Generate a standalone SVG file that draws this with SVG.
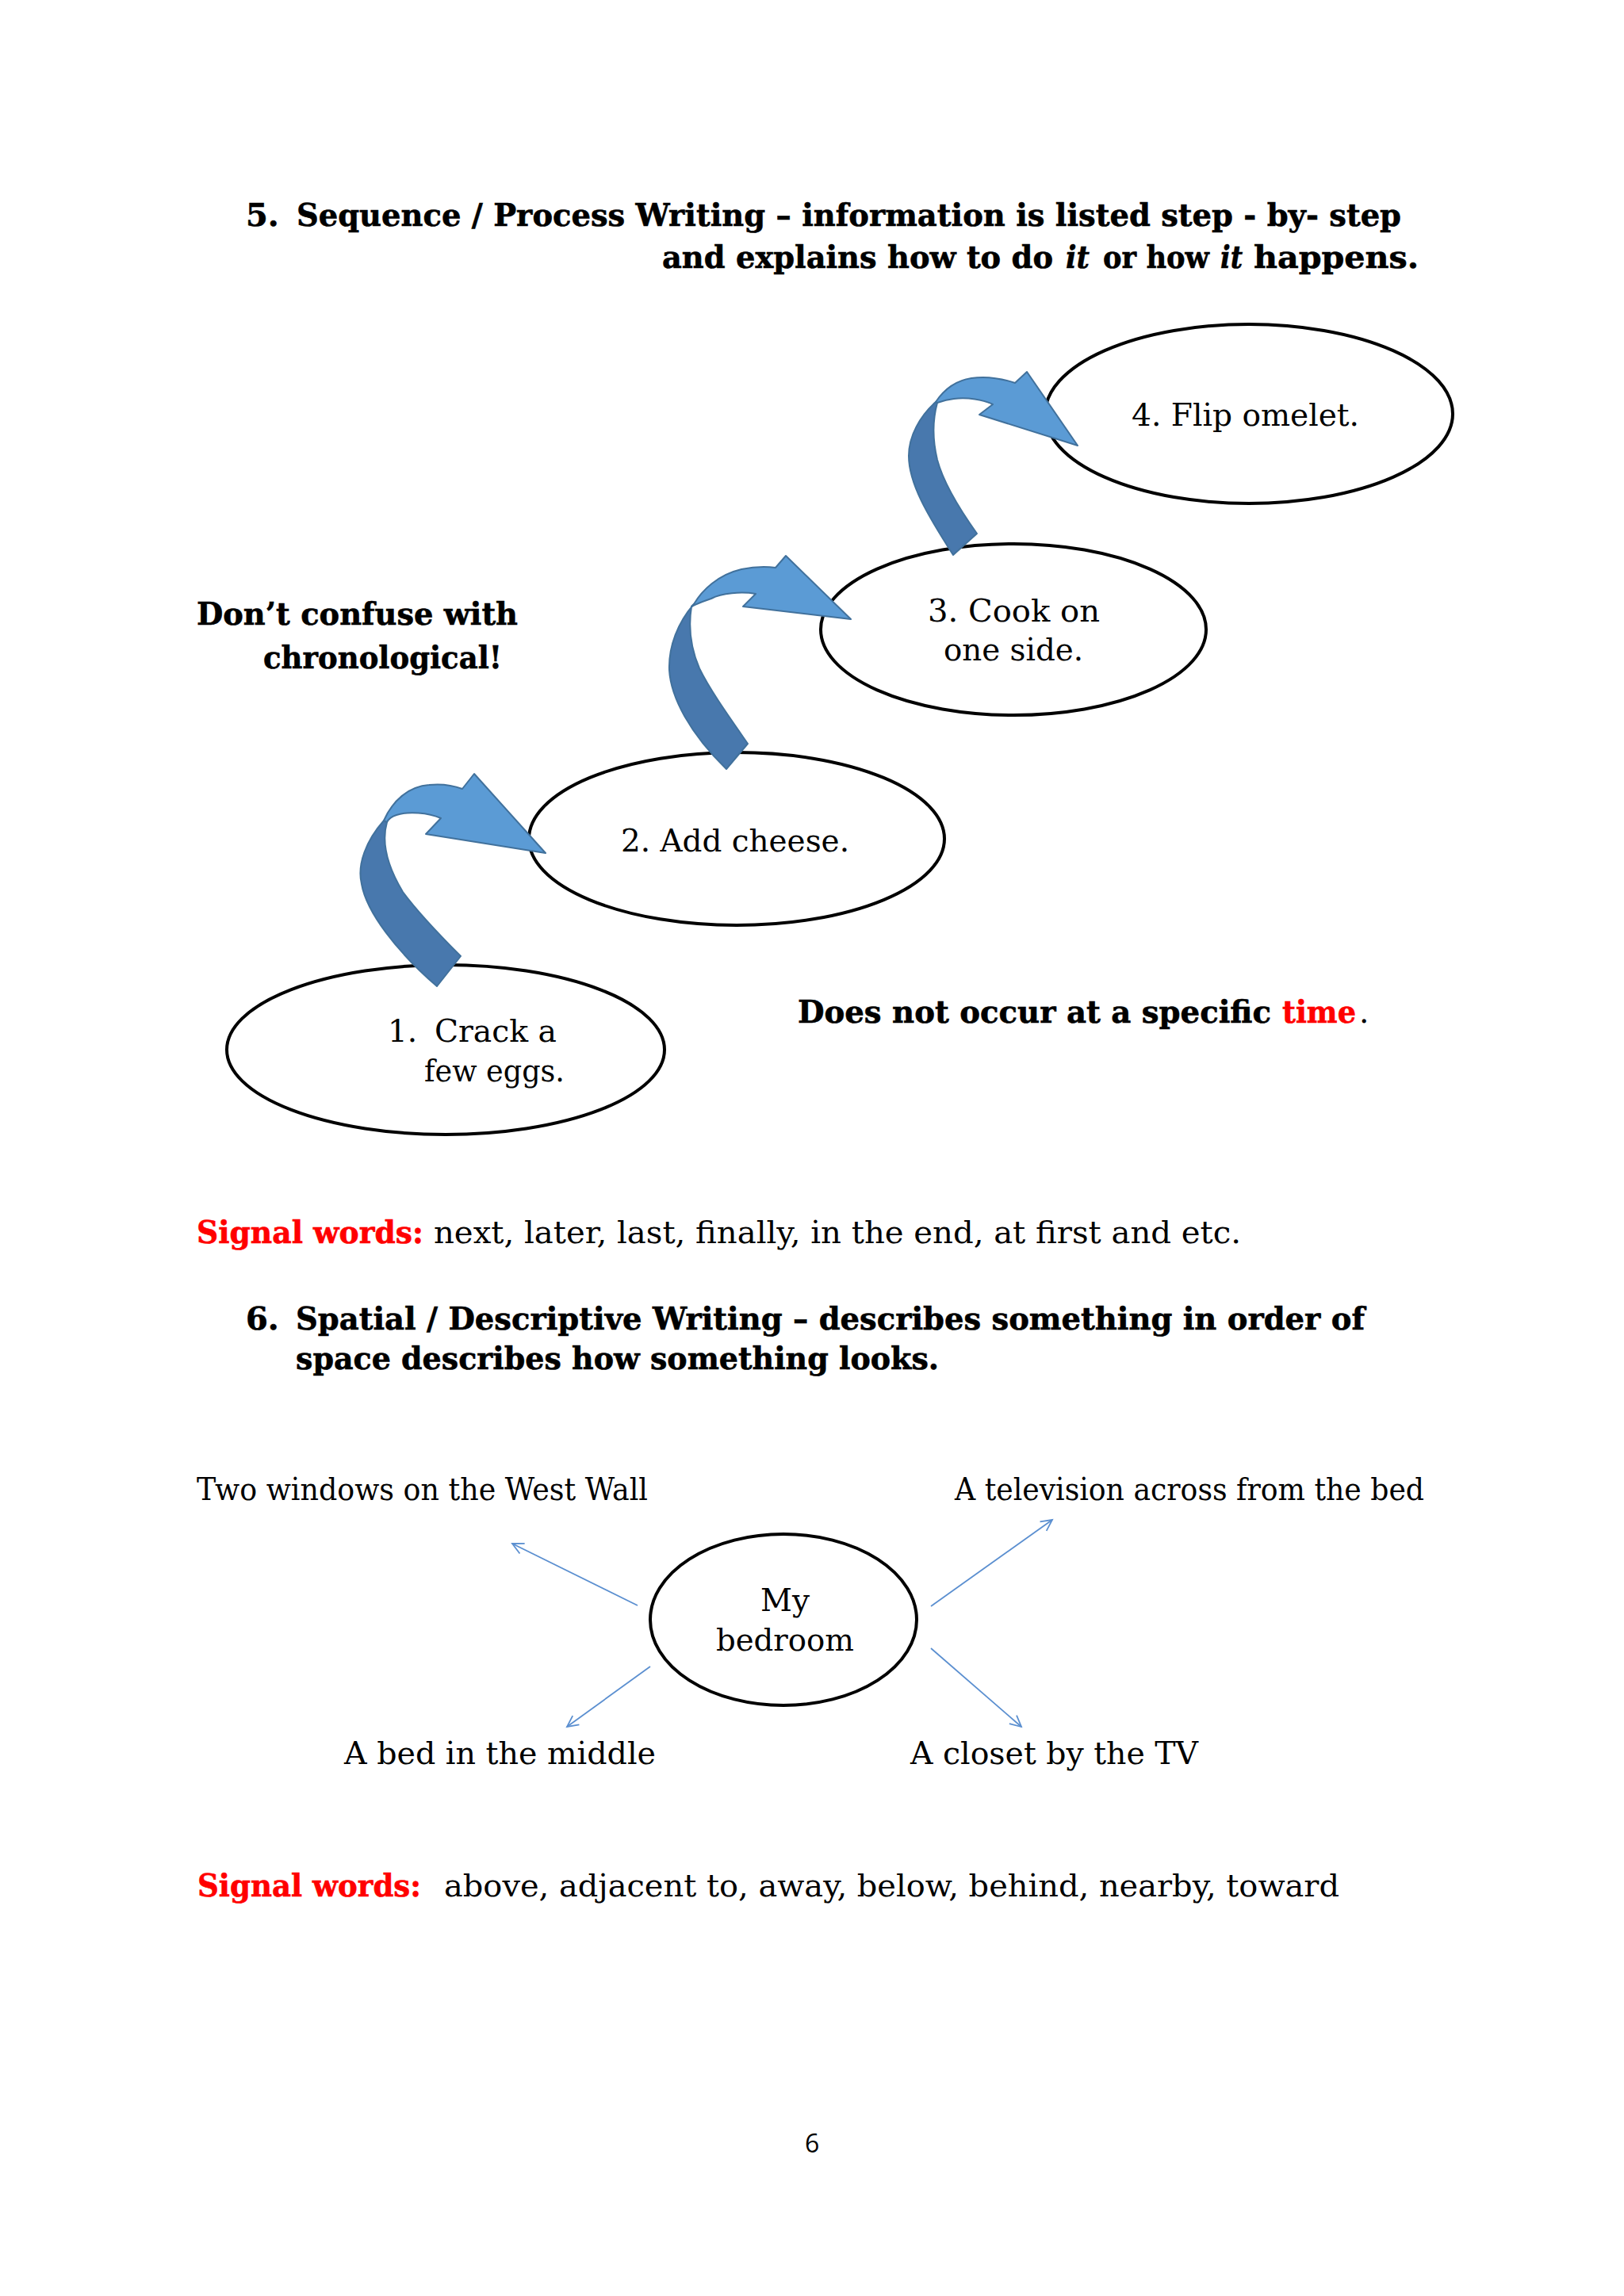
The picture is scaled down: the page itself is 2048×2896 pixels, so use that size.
<svg xmlns="http://www.w3.org/2000/svg" width="2048" height="2896" viewBox="0 0 2048 2896">
<style>
.hb{font-family:"DejaVu Serif","Liberation Serif",serif;font-weight:bold;font-size:40px;fill:#000;stroke:#000;stroke-width:0.6}
.it{font-style:italic}
.tx{font-family:"DejaVu Serif","Liberation Serif",serif;font-size:39px;fill:#000}
.red{fill:#ff0000;stroke:#ff0000}
.node{fill:#fff;stroke:#000;stroke-width:4}
.dark{fill:#4878ad;stroke:#41719c;stroke-width:2;stroke-linejoin:round}
.light{fill:#5b9bd5;stroke:#41719c;stroke-width:2;stroke-linejoin:round}
.thin{stroke:#5b8fd0;stroke-width:1.8;fill:none;marker-end:url(#open)}
.pg{font-family:"Open Sans","Liberation Sans",sans-serif;font-size:32px;fill:#000}
</style>
<defs>
<marker id="open" markerWidth="20" markerHeight="20" refX="16" refY="8" orient="auto" markerUnits="userSpaceOnUse">
<path d="M2,1 L16,8 L2,15" fill="none" stroke="#5b8fd0" stroke-width="1.8"/>
</marker>
</defs>
<rect width="2048" height="2896" fill="#fff"/>

<g id="heading5">
<text class="hb" x="310" y="285">5.</text>
<text class="hb" x="374" y="285" textLength="1393" lengthAdjust="spacingAndGlyphs">Sequence / Process Writing – information is listed step - by- step</text>
<text class="hb" x="835" y="338" textLength="493" lengthAdjust="spacingAndGlyphs">and explains how to do</text>
<text class="hb it" x="1344" y="338" textLength="30" lengthAdjust="spacingAndGlyphs">it</text>
<text class="hb" x="1391" y="338" textLength="134" lengthAdjust="spacingAndGlyphs">or how</text>
<text class="hb it" x="1539" y="338" textLength="28" lengthAdjust="spacingAndGlyphs">it</text>
<text class="hb" x="1581" y="338" textLength="208" lengthAdjust="spacingAndGlyphs">happens.</text>
</g>

<g id="note-chrono">
<text class="hb" x="248" y="788" textLength="405" lengthAdjust="spacingAndGlyphs">Don’t confuse with</text>
<text class="hb" x="332" y="843" textLength="301" lengthAdjust="spacingAndGlyphs">chronological!</text>
</g>

<g id="note-time">
<text class="hb" x="1006" y="1290" textLength="597" lengthAdjust="spacingAndGlyphs">Does not occur at a specific</text>
<text class="hb red" x="1617" y="1290" textLength="93" lengthAdjust="spacingAndGlyphs">time</text>
<text class="tx" x="1714" y="1290">.</text>
</g>

<g id="step1">
<ellipse class="node" cx="562" cy="1324" rx="276" ry="107"/>
<text class="tx" x="489" y="1314">1.</text>
<text class="tx" x="548" y="1314" textLength="154" lengthAdjust="spacingAndGlyphs">Crack a</text>
<text class="tx" x="535" y="1364" textLength="177" lengthAdjust="spacingAndGlyphs">few eggs.</text>
</g>
<g id="step2">
<ellipse class="node" cx="929" cy="1058" rx="262" ry="109"/>
<text class="tx" x="783" y="1074" textLength="288" lengthAdjust="spacingAndGlyphs">2. Add cheese.</text>
</g>
<g id="step3">
<ellipse class="node" cx="1278" cy="794" rx="243" ry="108"/>
<text class="tx" x="1170" y="784" textLength="217" lengthAdjust="spacingAndGlyphs">3. Cook on</text>
<text class="tx" x="1190" y="833" textLength="176" lengthAdjust="spacingAndGlyphs">one side.</text>
</g>
<g id="step4">
<ellipse class="node" cx="1575" cy="522" rx="257" ry="113"/>
<text class="tx" x="1427" y="537" textLength="287" lengthAdjust="spacingAndGlyphs">4. Flip omelet.</text>
</g>

<g id="connectors-sequence">
<g id="arrow1-2">
<path class="dark" d="M484,1035 C462,1060 450,1090 456,1115 C462,1150 500,1200 551,1244 L581,1206 C555,1180 525,1148 508,1125 C490,1095 480,1065 488,1037 Z"/>
<path class="light" d="M484,1035 C495,1010 515,992 541,990 C560,988 575,992 583,995 L598,976 L688,1076 L537,1052 L556,1032 C540,1025 515,1023 500,1028 C494,1030 490,1033 488,1037 Z"/>
</g>
<g id="arrow2-3">
<path class="dark" d="M875,762 C855,785 843,815 844,845 C846,880 870,925 916,970 L943,938 C920,905 895,870 882,843 C870,815 868,790 872,765 Z"/>
<path class="light" d="M875,762 C885,745 905,725 935,718 C955,714 970,715 978,716 L991,701 L1073,781 L937,765 L953,749 C935,746 910,748 897,755 C888,758 880,761 872,765 Z"/>
</g>
<g id="arrow3-4">
<path class="dark" d="M1180,507 C1160,525 1146,550 1146,575 C1146,610 1170,650 1202,700 L1232,673 C1212,645 1190,610 1182,580 C1176,555 1176,530 1182,508 Z"/>
<path class="light" d="M1180,507 C1190,492 1205,480 1225,477 C1245,474 1265,478 1280,483 L1295,469 L1359,562 L1235,523 L1252,510 C1240,504 1220,501 1203,503 C1195,504 1188,506 1182,508 Z"/>
</g>
</g>

<g id="signal1">
<text class="hb red" x="248" y="1568" textLength="286" lengthAdjust="spacingAndGlyphs">Signal words:</text>
<text class="tx" x="547" y="1568" textLength="1018" lengthAdjust="spacingAndGlyphs">next, later, last, finally, in the end, at first and etc.</text>
</g>

<g id="heading6">
<text class="hb" x="310" y="1677">6.</text>
<text class="hb" x="373" y="1677" textLength="1348" lengthAdjust="spacingAndGlyphs">Spatial / Descriptive Writing – describes something in order of</text>
<text class="hb" x="373" y="1727" textLength="811" lengthAdjust="spacingAndGlyphs">space describes how something looks.</text>
</g>

<g id="bedroom">
<ellipse class="node" cx="988" cy="2043" rx="168" ry="108"/>
<text class="tx" x="990" y="2032" text-anchor="middle">My</text>
<text class="tx" x="990" y="2082" text-anchor="middle" textLength="174" lengthAdjust="spacingAndGlyphs">bedroom</text>
</g>
<g id="label-windows"><text class="tx" x="248" y="1892" textLength="569" lengthAdjust="spacingAndGlyphs">Two windows on the West Wall</text></g>
<g id="label-tv"><text class="tx" x="1204" y="1892" textLength="592" lengthAdjust="spacingAndGlyphs">A television across from the bed</text></g>
<g id="label-bed"><text class="tx" x="434" y="2225" textLength="393" lengthAdjust="spacingAndGlyphs">A bed in the middle</text></g>
<g id="label-closet"><text class="tx" x="1148" y="2225" textLength="363" lengthAdjust="spacingAndGlyphs">A closet by the TV</text></g>

<g id="connectors-spatial">
<line class="thin" x1="804" y1="2025" x2="646" y2="1947"/>
<line class="thin" x1="1174" y1="2026" x2="1327" y2="1917"/>
<line class="thin" x1="820" y1="2102" x2="715" y2="2178"/>
<line class="thin" x1="1174" y1="2079" x2="1288" y2="2178"/>
</g>

<g id="signal2">
<text class="hb red" x="249" y="2392" textLength="282" lengthAdjust="spacingAndGlyphs">Signal words:</text>
<text class="tx" x="560" y="2392" textLength="1129" lengthAdjust="spacingAndGlyphs">above, adjacent to, away, below, behind, nearby, toward</text>
</g>

<g id="page-number"><text class="pg" x="1015" y="2715">6</text></g>
</svg>
